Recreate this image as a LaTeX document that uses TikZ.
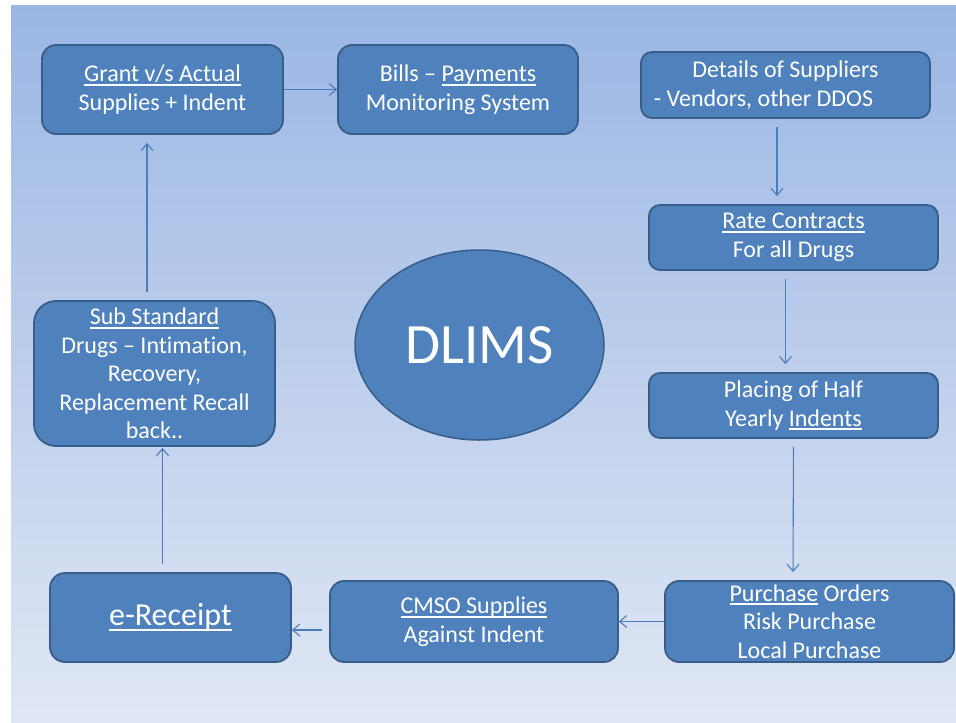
\documentclass[tikz,border=0pt]{standalone}
\usepackage{fontspec}
\setmainfont{Carlito}[Ligatures={TeX,NoCommon}]
\usetikzlibrary{positioning,calc,shapes.geometric,arrows.meta}

\definecolor{boxfill}{RGB}{79,129,189}
\definecolor{boxline}{RGB}{56,93,138}
\definecolor{linkcol}{RGB}{74,126,187}
\definecolor{bgtop}{RGB}{155,182,228}
\definecolor{bgbot}{RGB}{224,231,244}

% underline at a fixed depth below the baseline
\newcommand{\ulbar}[1]{\sbox0{#1}\rlap{\rule[-0.17em]{\wd0}{0.08em}}\usebox0}

\begin{document}
\begin{tikzpicture}[x=1pt,y=-1pt,
    box/.style={rectangle, rounded corners=#1, draw=boxline, line width=1.8pt, fill=boxfill,
        text=white, align=center, inner sep=0pt, font=\fontsize{24}{28.5}\selectfont},
    box/.default=14pt,
    link/.style={draw=linkcol, line width=1.1pt, -{Straight Barb[length=7pt,width=12pt]}}]

        \useasboundingbox (0,0) rectangle (956,723);
        \fill[white] (0,0) rectangle (956,723);
        \shade[top color=bgtop, bottom color=bgbot] (11,5) rectangle (956,722);

        \node[box, minimum width=241pt, minimum height=89pt] (grant) at (162.5,89.5)
            {\ulbar{Grant v/s Actual}\\Supplies + Indent};
        \node[box, minimum width=240pt, minimum height=89pt] (bills) at (458,89.5)
            {Bills – \ulbar{Payments}\\Monitoring System};
        \node[box=11pt, minimum width=289pt, minimum height=66pt] (details) at (785.5,85)
            {Details of Suppliers\\- Vendors, other DDOS\hspace*{44pt}};
        \node[box=11pt, minimum width=289pt, minimum height=65pt] (rate) at (793.5,237.5)
            {\ulbar{Rate Contracts}\\For all Drugs};
        \node[box=11pt, minimum width=289pt, minimum height=65pt] (placing) at (793.5,405.5)
            {Placing of Half\\Yearly \ulbar{Indents}};
        \node[box, minimum width=289pt, minimum height=81pt] (purchase) at (809.5,621.5)
            {\ulbar{Purchase} Orders\\Risk Purchase\\Local Purchase};
        \node[box, minimum width=288pt, minimum height=81pt] (cmso) at (474,621.5)
            {\ulbar{CMSO Supplies}\\Against Indent};
        \node[box=15pt, minimum width=241pt, minimum height=89pt, font=\fontsize{32}{36}\selectfont] (receipt) at (170.5,617.5)
            {\ulbar{e-Receipt}};
        \node[box=22pt, minimum width=241pt, minimum height=145pt] (substd) at (154.5,373.5)
            {\ulbar{Sub Standard}\\Drugs – Intimation,\\Recovery,\\Replacement Recall\\back..};

        \node[ellipse, draw=boxline, line width=1.5pt, fill=boxfill, text=white, inner sep=0pt,
            minimum width=249pt, minimum height=190pt, font=\fontsize{57}{62}\selectfont] (dlims) at (479.5,345) {DLIMS};

        \draw[link] (grant.east) -- (bills.west);
        \draw[link, shorten <=8pt, shorten >=8pt] ([xshift=-8.5pt]details.south) -- ([xshift=-16.5pt]rate.north);
        \draw[link, shorten <=8pt, shorten >=8pt] ([xshift=-8pt]rate.south) -- ([xshift=-8pt]placing.north);
        \draw[link, shorten <=8pt, shorten >=8pt] (placing.south) -- ([xshift=-16.5pt]purchase.north);
        \draw[link] (purchase.west) -- (cmso.east);
        \draw[link, shorten <=7pt] ([yshift=-8.5pt]cmso.west) -- ([yshift=-12.5pt]receipt.east);
        \draw[link, shorten <=8pt, shorten >=1pt] ([xshift=-8pt]receipt.north) -- ([xshift=8pt]substd.south);
        \draw[link, shorten <=8pt, shorten >=8pt] ([xshift=-7.5pt]substd.north) -- ([xshift=-15.5pt]grant.south);
    \end{tikzpicture}
\end{document}
